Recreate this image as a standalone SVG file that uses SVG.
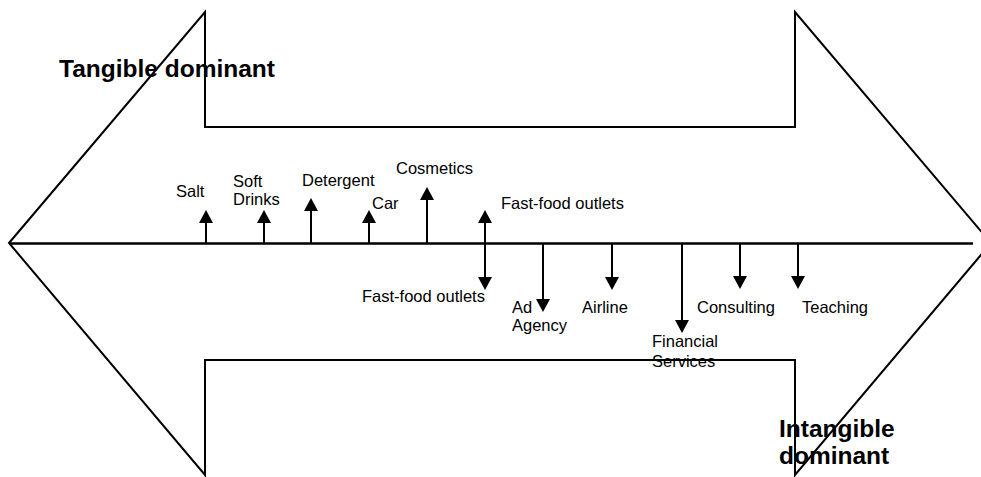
<svg xmlns="http://www.w3.org/2000/svg" width="981" height="477" viewBox="0 0 981 477">
  <style>
    .outline { fill: none; stroke: #000; stroke-width: 2; stroke-linejoin: miter; }
    .axis { stroke: #000; stroke-width: 2.5; }
    .stem { stroke: #000; stroke-width: 2; fill: none; }
    .lbl { font-family: "Liberation Sans", Arial, sans-serif; font-size: 16.5px; fill: #000; }
    .title { font-family: "Liberation Sans", Arial, sans-serif; font-size: 24.5px; font-weight: bold; fill: #000; }
  </style>
  <defs>
    <marker id="head" viewBox="0 0 13 14" refX="0" refY="7" markerWidth="13" markerHeight="14" markerUnits="userSpaceOnUse" orient="auto-start-reverse">
      <path d="M0,0 L13,7 L0,14 Z" fill="#000"/>
    </marker>
  </defs>

  <rect width="981" height="477" fill="#fff"/>

  <!-- double-headed block arrow -->
  <g id="frame">
    <path class="outline" d="M9,243 L205,12 L205,127 L795,127 L795,12 L991,243 L795,475 L795,360 L205,360 L205,475 Z"/>
    <line class="axis" x1="9" y1="243.5" x2="973" y2="243.5"/>
  </g>

  <!-- connectors from the axis -->
  <g id="connectors">
    <line class="stem" x1="206" y1="243" x2="206" y2="223" marker-end="url(#head)"/>
    <line class="stem" x1="264" y1="243" x2="264" y2="223" marker-end="url(#head)"/>
    <line class="stem" x1="311" y1="243" x2="311" y2="211" marker-end="url(#head)"/>
    <line class="stem" x1="369" y1="243" x2="369" y2="223" marker-end="url(#head)"/>
    <line class="stem" x1="427" y1="243" x2="427" y2="200" marker-end="url(#head)"/>
    <line class="stem" x1="485" y1="223" x2="485" y2="277" marker-start="url(#head)" marker-end="url(#head)"/>
    <line class="stem" x1="543" y1="243" x2="543" y2="299" marker-end="url(#head)"/>
    <line class="stem" x1="612" y1="243" x2="612" y2="277" marker-end="url(#head)"/>
    <line class="stem" x1="682" y1="243" x2="682" y2="320" marker-end="url(#head)"/>
    <line class="stem" x1="740" y1="243" x2="740" y2="276" marker-end="url(#head)"/>
    <line class="stem" x1="798" y1="243" x2="798" y2="276" marker-end="url(#head)"/>
  </g>

  <g id="tangible-dominant"><text class="title" x="59" y="77">Tangible dominant</text></g>
  <g id="intangible-dominant">
    <text class="title" x="779" y="437">Intangible</text>
    <text class="title" x="779" y="464">dominant</text>
  </g>

  <g id="salt"><text class="lbl" x="176" y="197">Salt</text></g>
  <g id="soft-drinks">
    <text class="lbl" x="233" y="187">Soft</text>
    <text class="lbl" x="233" y="205">Drinks</text>
  </g>
  <g id="detergent"><text class="lbl" x="302" y="186">Detergent</text></g>
  <g id="car"><text class="lbl" x="372" y="209">Car</text></g>
  <g id="cosmetics"><text class="lbl" x="396" y="174">Cosmetics</text></g>
  <g id="fast-food-upper"><text class="lbl" x="501" y="209">Fast-food outlets</text></g>
  <g id="fast-food-lower"><text class="lbl" x="362" y="302">Fast-food outlets</text></g>
  <g id="ad-agency">
    <text class="lbl" x="512" y="313">Ad</text>
    <text class="lbl" x="512" y="331">Agency</text>
  </g>
  <g id="airline"><text class="lbl" x="582" y="313">Airline</text></g>
  <g id="financial-services">
    <text class="lbl" x="652" y="347">Financial</text>
    <text class="lbl" x="652" y="367">Services</text>
  </g>
  <g id="consulting"><text class="lbl" x="697" y="313">Consulting</text></g>
  <g id="teaching"><text class="lbl" x="802" y="313">Teaching</text></g>
</svg>
